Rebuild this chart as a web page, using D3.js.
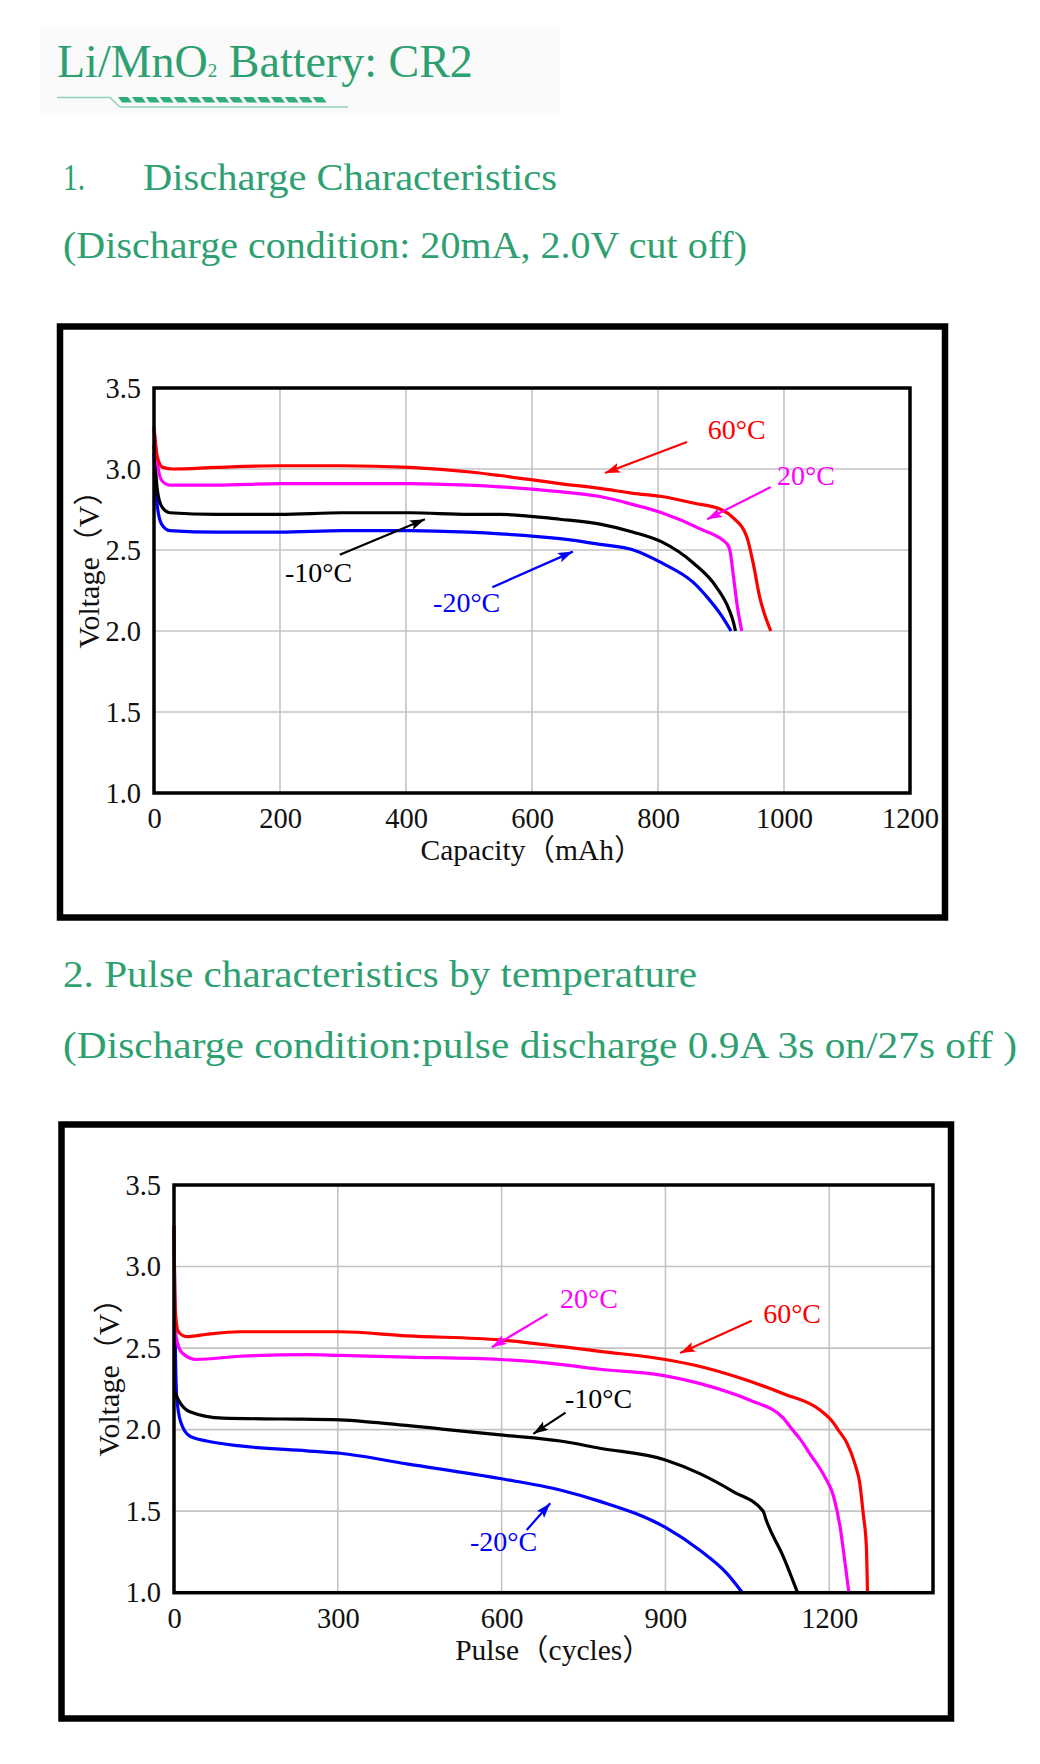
<!DOCTYPE html>
<html>
<head>
<meta charset="utf-8">
<title>Li/MnO2 Battery: CR2</title>
<script src="https://cdn.jsdelivr.net/npm/d3@7"></script>
<style>
  body { margin: 0; background: #fff; }
  svg text { font-family: "Liberation Serif", "Times New Roman", "Noto Sans CJK SC", serif; }
</style>
</head>
<body>
<div id="page"></div>
<script>
// ---- data ----
// chart 1: discharge 20mA, capacity (mAh) vs voltage (V)
const capTicks = [0, 200, 400, 600, 800, 1000, 1200];
const voltTicks = [1.0, 1.5, 2.0, 2.5, 3.0, 3.5];

const dis60 = [[0,3.26],[5,3.08],[14,3.01],[30,3.0],[100,3.01],[200,3.02],[295,3.02],[406,3.01],[506,2.98],[549,2.96],[644,2.91],[708,2.88],[761,2.85],[806,2.83],[856,2.79],[900,2.75],[919,2.70],[941,2.58],[951,2.42],[962,2.20],[967,2.13],[979,2.0]];
const dis20 = [[0,3.25],[5,3.05],[12,2.93],[25,2.90],[100,2.90],[200,2.91],[300,2.91],[406,2.91],[500,2.90],[549,2.89],[644,2.86],[708,2.83],[761,2.78],[806,2.73],[867,2.63],[909,2.54],[914,2.50],[920,2.33],[926,2.15],[933,2.0]];
const disM10 = [[0,3.15],[5,2.88],[12,2.77],[25,2.73],[100,2.72],[200,2.72],[300,2.73],[406,2.73],[500,2.72],[549,2.72],[644,2.69],[708,2.66],[761,2.61],[806,2.55],[856,2.42],[893,2.27],[912,2.14],[920,2.05],[923,2.0]];
const disM20 = [[0,3.1],[5,2.78],[12,2.66],[25,2.62],[100,2.61],[200,2.61],[300,2.62],[406,2.62],[500,2.61],[549,2.60],[644,2.57],[708,2.535],[761,2.50],[806,2.42],[856,2.30],[880,2.20],[900,2.10],[916,2.0]];

// chart 2: pulse 0.9A 3s on / 27s off, pulse (cycles) vs voltage (V)
const pulseTicks = [0, 300, 600, 900, 1200];

const pul60 = [[0,3.25],[1,2.95],[3,2.7],[8,2.6],[23,2.57],[60,2.585],[121,2.60],[200,2.60],[304,2.60],[426,2.575],[597,2.55],[707,2.51],[780,2.48],[900,2.43],[960,2.39],[1024,2.33],[1116,2.22],[1183,2.12],[1208,2.04],[1216,2.0],[1232,1.92],[1247,1.79],[1256,1.67],[1262,1.49],[1268,1.28],[1270,1.0]];
const pul20 = [[0,2.66],[5,2.55],[15,2.47],[41,2.43],[121,2.45],[243,2.46],[304,2.455],[426,2.445],[597,2.43],[707,2.40],[780,2.37],[900,2.33],[1024,2.22],[1055,2.18],[1116,2.07],[1130,2.01],[1147,1.94],[1165,1.85],[1192,1.71],[1208,1.59],[1220,1.40],[1229,1.18],[1236,1.0]];
const pulM10 = [[0,2.24],[10,2.17],[29,2.11],[90,2.07],[200,2.065],[304,2.06],[365,2.045],[500,2.0],[607,1.965],[707,1.93],[780,1.886],[900,1.814],[963,1.73],[1024,1.62],[1079,1.50],[1084,1.45],[1116,1.22],[1142,1.0]];
const pulM20 = [[0,3.25],[2,2.6],[5,2.2],[12,2.05],[29,1.96],[60,1.93],[121,1.90],[243,1.87],[304,1.855],[426,1.79],[597,1.70],[707,1.63],[780,1.56],[900,1.40],[963,1.26],[1012,1.12],[1041,1.0]];

// labels with their arrows: [text x, text baseline], arrow from -> to (all in data units)
const disNotes = [
  { text: "60°C",  color: "#ff0000", at: [879, 3.185], from: [846, 3.167], to: [716, 2.975] },
  { text: "20°C",  color: "#ff00ff", at: [989, 2.90],  from: [979, 2.889], to: [878, 2.69] },
  { text: "-10°C", color: "#000000", at: [208, 2.30],  from: [295, 2.47],  to: [430, 2.69] },
  { text: "-20°C", color: "#0000ff", at: [443, 2.117], from: [537, 2.27],  to: [665, 2.49] }
];
const pulNotes = [
  { text: "20°C",  color: "#ff00ff", at: [707, 2.747], from: [684, 2.708], to: [582, 2.505] },
  { text: "60°C",  color: "#ff0000", at: [1079, 2.655], from: [1058, 2.667], to: [927, 2.47] },
  { text: "-10°C", color: "#000000", at: [716, 2.133], from: [717, 2.104], to: [658, 1.974] },
  { text: "-20°C", color: "#0000ff", at: [542, 1.258], from: [646, 1.385], to: [689, 1.548] }
];

const green = "#2da071";
const width = 1040;
const height = 1764;

const svg = d3.select("#page")
  .append("svg")
  .attr("width", width)
  .attr("height", height);

const defs = svg.append("defs");
["#ff0000", "#ff00ff", "#000000", "#0000ff"].forEach(c => {
  defs.append("marker")
    .attr("id", "arrow" + c.slice(1))
    .attr("markerUnits", "userSpaceOnUse")
    .attr("markerWidth", 16)
    .attr("markerHeight", 12)
    .attr("refX", 15)
    .attr("refY", 5)
    .attr("orient", "auto")
    .append("path")
    .attr("d", "M0,0 L15,5 L0,10 L3,5 Z")
    .attr("fill", c);
});

// ---- header ----
svg.append("rect")
  .attr("x", 40).attr("y", 27)
  .attr("width", 520).attr("height", 86)
  .attr("fill", "#f9faf9");

const title = svg.append("text")
  .attr("x", 57).attr("y", 77)
  .attr("fill", green)
  .attr("font-size", 46);
title.append("tspan").text("Li/MnO");
title.append("tspan").attr("font-size", 19).text("2");
title.append("tspan").text(" Battery: CR2");

// underline decoration
svg.append("path")
  .attr("d", "M57,97.5 L110,97.5 L120,107 L348,107")
  .attr("fill", "none")
  .attr("stroke", "#8fd3b3")
  .attr("stroke-width", 1.5);
svg.append("g")
  .selectAll("path")
  .data(d3.range(15))
  .join("path")
  .attr("d", i => {
    const x0 = 118 + i * 13.9;
    return `M${x0},97 L${x0 + 10},97 L${x0 + 14},102.5 L${x0 + 4},102.5 Z`;
  })
  .attr("fill", "#2fae7a");

function heading(x, y, str, len) {
  svg.append("text")
    .attr("x", x).attr("y", y)
    .attr("fill", green)
    .attr("font-size", 38)
    .attr("textLength", len)
    .attr("lengthAdjust", "spacingAndGlyphs")
    .text(str);
}
heading(63, 190, "1.", 22);
heading(143, 190, "Discharge Characteristics", 414);
heading(63, 258, "(Discharge condition: 20mA, 2.0V cut off)", 684);
heading(63, 987, "2. Pulse characteristics by temperature", 634);
heading(63, 1058, "(Discharge condition:pulse discharge 0.9A 3s on/27s off )", 954);

// ---- charts ----
function drawChart(cfg) {
  const g = svg.append("g");

  g.append("rect")
    .attr("x", cfg.box[0]).attr("y", cfg.box[1])
    .attr("width", cfg.box[2]).attr("height", cfg.box[3])
    .attr("fill", "#fff")
    .attr("stroke", "#000")
    .attr("stroke-width", 6.5);

  const x = d3.scaleLinear().domain(cfg.xDomain).range(cfg.xRange);
  const y = d3.scaleLinear().domain([1.0, 3.5]).range(cfg.yRange);

  // grid
  g.append("g")
    .selectAll("line")
    .data(cfg.xTicks.filter(d => d > cfg.xDomain[0] && d < cfg.xDomain[1] && x(d) < cfg.xRange[1] - 5))
    .join("line")
    .attr("x1", d => x(d)).attr("x2", d => x(d))
    .attr("y1", cfg.yRange[0]).attr("y2", cfg.yRange[1])
    .attr("stroke", "#c4c4c4")
    .attr("stroke-width", 1.6);
  g.append("g")
    .selectAll("line")
    .data(voltTicks.slice(1, -1))
    .join("line")
    .attr("x1", cfg.xRange[0]).attr("x2", cfg.xRange[1])
    .attr("y1", d => y(d)).attr("y2", d => y(d))
    .attr("stroke", "#c4c4c4")
    .attr("stroke-width", 1.6);

  // axes (labels only)
  const xAxis = g.append("g")
    .attr("transform", `translate(0,${cfg.yRange[0]})`)
    .call(d3.axisBottom(x).tickValues(cfg.xTicks).tickSize(0).tickPadding(15).tickFormat(d3.format("d")));
  const yAxis = g.append("g")
    .attr("transform", `translate(${cfg.xRange[0]},0)`)
    .call(d3.axisLeft(y).tickValues(voltTicks).tickSize(0).tickPadding(13).tickFormat(d3.format(".1f")));
  [xAxis, yAxis].forEach(a => {
    a.select(".domain").remove();
    a.selectAll("text")
      .attr("font-size", 28.5)
      .attr("fill", "#111")
      .style("font-family", "'Liberation Serif', serif");
  });

  // curves
  const line = d3.line()
    .x(d => x(d[0]))
    .y(d => y(d[1]))
    .curve(d3.curveMonotoneX);
  g.append("g")
    .selectAll("path")
    .data(cfg.series)
    .join("path")
    .attr("d", d => line(d.values))
    .attr("fill", "none")
    .attr("stroke", d => d.color)
    .attr("stroke-width", 3.2)
    .attr("stroke-linejoin", "round");

  // plot frame
  g.append("rect")
    .attr("x", cfg.xRange[0]).attr("y", cfg.yRange[1])
    .attr("width", cfg.xRange[1] - cfg.xRange[0])
    .attr("height", cfg.yRange[0] - cfg.yRange[1])
    .attr("fill", "none")
    .attr("stroke", "#000")
    .attr("stroke-width", 3.5);

  // annotations
  const notes = g.append("g")
    .selectAll("g")
    .data(cfg.notes)
    .join("g");
  notes.append("line")
    .attr("x1", d => x(d.from[0])).attr("y1", d => y(d.from[1]))
    .attr("x2", d => x(d.to[0])).attr("y2", d => y(d.to[1]))
    .attr("stroke", d => d.color)
    .attr("stroke-width", 2.2)
    .attr("marker-end", d => `url(#arrow${d.color.slice(1)})`);
  notes.append("text")
    .attr("x", d => x(d.at[0])).attr("y", d => y(d.at[1]))
    .attr("fill", d => d.color)
    .attr("font-size", 28)
    .text(d => d.text);

  // axis titles
  const midX = (cfg.xRange[0] + cfg.xRange[1]) / 2;
  g.append("text")
    .attr("x", midX).attr("y", cfg.yRange[0] + 67)
    .attr("text-anchor", "middle")
    .attr("font-size", 29.5)
    .attr("fill", "#111")
    .text(cfg.xLabel);
  g.append("text")
    .attr("transform", `translate(${cfg.xRange[0] - 66},${cfg.yLabelMid}) rotate(-90)`)
    .attr("text-anchor", "middle")
    .attr("dominant-baseline", "central")
    .attr("font-size", 30)
    .attr("fill", "#111")
    .text("Voltage（V）");
}

drawChart({
  box: [60, 326.5, 885, 591],
  xDomain: [0, 1200],
  xRange: [154, 910],
  yRange: [793, 388],
  xTicks: capTicks,
  xLabel: "Capacity（mAh）",
  yLabelMid: 562,
  series: [
    { color: "#0000ff", values: disM20 },
    { color: "#000000", values: disM10 },
    { color: "#ff00ff", values: dis20 },
    { color: "#ff0000", values: dis60 }
  ],
  notes: disNotes
});

drawChart({
  box: [61.5, 1124.5, 889.5, 594],
  xDomain: [0, 1390],
  xRange: [174, 933],
  yRange: [1592.7, 1185],
  xTicks: pulseTicks,
  xLabel: "Pulse（cycles）",
  yLabelMid: 1370,
  series: [
    { color: "#0000ff", values: pulM20 },
    { color: "#000000", values: pulM10 },
    { color: "#ff00ff", values: pul20 },
    { color: "#ff0000", values: pul60 }
  ],
  notes: pulNotes
});
</script>
</body>
</html>
